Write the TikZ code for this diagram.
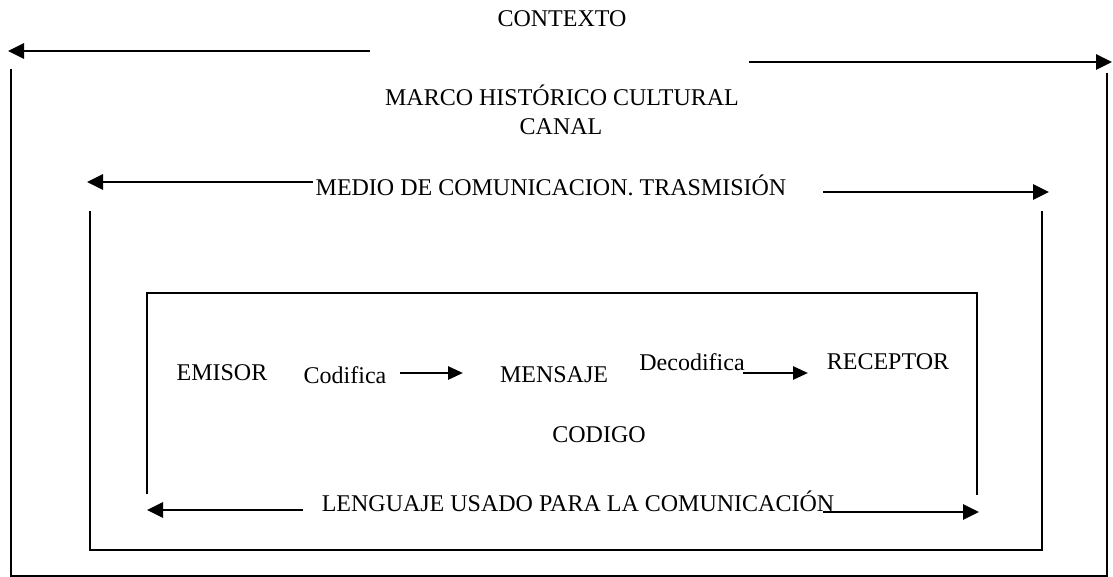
\documentclass[tikz,border=0pt]{standalone}
\usepackage{fontspec}
\setmainfont{Liberation Serif}
\usetikzlibrary{arrows.meta}
\begin{document}
\begin{tikzpicture}[x=1pt,y=-1pt,
  lbl/.style={anchor=base, inner sep=0pt, font=\fontsize{24}{28}\selectfont},
  frame/.style={line width=2pt},
  arr/.style={line width=2.7pt, -{Triangle[length=16pt,width=15pt]}},
  sarr/.style={line width=2.7pt, -{Triangle[length=15pt,width=13pt]}}]
\useasboundingbox (0,0) rectangle (1113,577);
% frames
\draw[frame] (11,69) -- (11,576) -- (1107,576) -- (1107,73);
\draw[frame] (90,211) -- (90,550) -- (1042,550) -- (1042,211);
\draw[frame] (147,494) -- (147,293) -- (977,293) -- (977,495);
% labels
\node[lbl] (ctx) at (562,27) {CONTEXTO};
\node[lbl] (marco) at (562,106) {MARCO HISTÓRICO CULTURAL};
\node[lbl] (canal) at (561,135) {CANAL};
\node[lbl] (medio) at (551,196) {MEDIO DE COMUNICACION. TRASMISIÓN};
\node[lbl] (emisor) at (222,380) {EMISOR};
\node[lbl] (cod) at (345,383) {Codifica};
\node[lbl] (mensaje) at (554,382) {MENSAJE};
\node[lbl] (decod) at (692,370) {Decodifica};
\node[lbl] (receptor) at (888,369) {RECEPTOR};
\node[lbl] (codigo) at (599,442) {CODIGO};
\node[lbl] (lenguaje) at (578,511) {LENGUAJE USADO PARA LA COMUNICACIÓN};
% arrow end points
\coordinate (c1a) at (370,51);  \coordinate (c1b) at (8,51);
\coordinate (c2a) at (749,62);  \coordinate (c2b) at (1112,62);
\coordinate (m1a) at (313,182); \coordinate (m1b) at (87,182);
\coordinate (m2a) at (823,192); \coordinate (m2b) at (1049,192);
\coordinate (l1a) at (303,510); \coordinate (l1b) at (147,510);
\coordinate (l2a) at (823,512); \coordinate (l2b) at (979,512);
\coordinate (ka) at (400,373);  \coordinate (kb) at (463,373);
\coordinate (da) at (743,373);  \coordinate (db) at (808,373);
% arrows
\draw[arr] (c1a) -- (c1b);
\draw[arr] (c2a) -- (c2b);
\draw[arr] (m1a) -- (m1b);
\draw[arr] (m2a) -- (m2b);
\draw[arr] (l1a) -- (l1b);
\draw[arr] (l2a) -- (l2b);
\draw[sarr] (ka) -- (kb);
\draw[sarr] (da) -- (db);
\end{tikzpicture}
\end{document}
